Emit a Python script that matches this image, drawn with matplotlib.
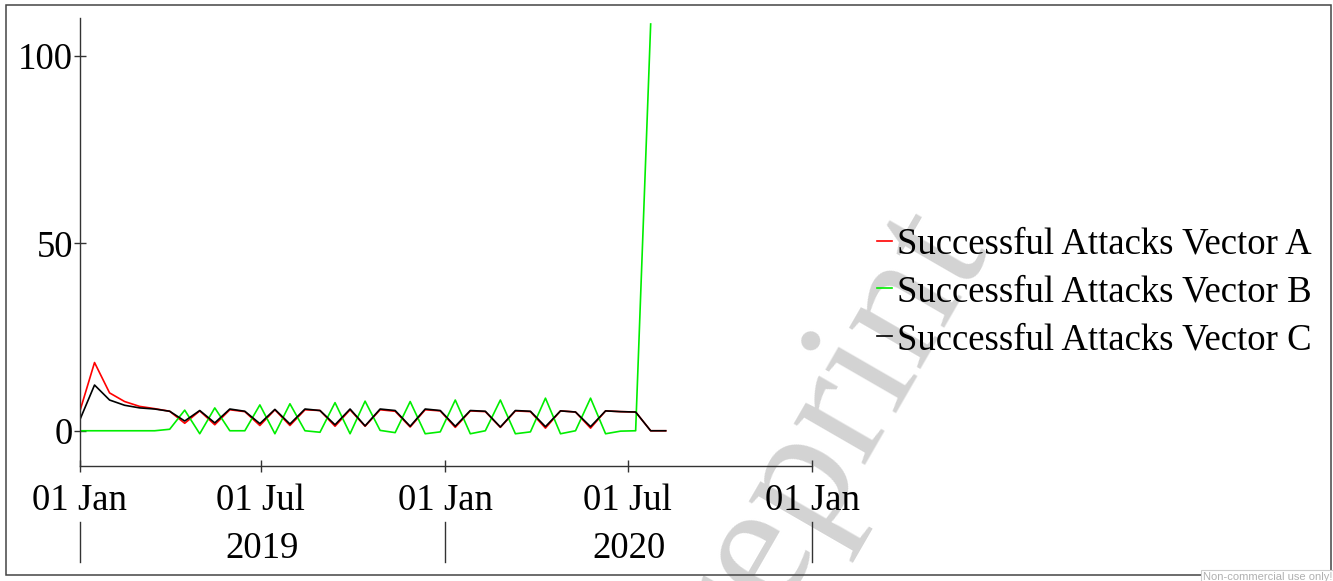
import matplotlib
matplotlib.use("Agg")
import matplotlib.pyplot as plt
import matplotlib.dates as mdates
import matplotlib.transforms as mtransforms
from matplotlib.patches import Rectangle
import numpy as np
import pandas as pd

# ---- data -------------------------------------------------------------
dates = pd.date_range("2019-01-01", periods=40, freq="15D")

vector_a = [4.9, 18.2, 10.1, 7.8, 6.5, 5.9, 5.2, 2.0, 5.3, 1.6, 5.6, 5.1, 1.4,
            5.6, 1.4, 5.6, 5.4, 1.2, 5.6, 1.2, 5.6, 5.2, 1.0, 5.6, 5.3, 0.9,
            5.3, 5.1, 0.9, 5.3, 5.1, 0.7, 5.3, 5.0, 0.7, 5.3, 5.1, 5.0, 0.0, 0.0]

vector_b = [0.0, 0.0, 0.0, 0.0, 0.0, 0.0, 0.4, 5.5, -0.8, 6.1, 0.0, 0.0, 6.9,
            -0.8, 7.2, 0.0, -0.4, 7.5, -0.8, 7.9, 0.1, -0.5, 7.8, -0.8, -0.3,
            8.2, -0.8, 0.0, 8.2, -0.8, -0.3, 8.7, -0.8, 0.0, 8.7, -0.8, -0.1,
            0.0, 108.5, np.nan]

vector_c = [2.7, 12.2, 8.2, 6.8, 6.1, 5.8, 5.2, 2.6, 5.4, 2.1, 5.8, 5.2, 1.9,
            5.7, 1.8, 5.8, 5.4, 1.6, 5.8, 1.3, 5.8, 5.4, 1.2, 5.8, 5.4, 1.2,
            5.4, 5.2, 1.0, 5.4, 5.2, 1.1, 5.3, 5.0, 1.1, 5.3, 5.1, 5.0, 0.0, 0.0]

series_names = ["Successful Attacks Vector A",
                "Successful Attacks Vector B",
                "Successful Attacks Vector C"]
series_colors = ["#ff0000", "#00ee00", "#000000"]

y_ticks = [0, 50, 100]
x_ticks = pd.to_datetime(["2019-01-01", "2019-07-01", "2020-01-01",
                          "2020-07-01", "2021-01-01"])
year_labels = ["2019", "2020"]
year_bounds = pd.to_datetime(["2019-01-01", "2020-01-01", "2021-01-01"])

FS = 26.5

# ---- figure -----------------------------------------------------------
W, H = 1333, 581
fig = plt.figure(figsize=(W / 100, H / 100), dpi=100)
plt.rcParams["font.family"] = ["Liberation Serif", "DejaVu Serif"]

def px(x, y):
    """pixel position (from top-left) -> figure fraction"""
    return x / W, 1 - y / H

left, top = px(79.5, 18)
right, bottom = px(812, 466)
ax = fig.add_axes([left, bottom, right - left, top - bottom])
ax.set_facecolor("none")

for vals, name, col in zip([vector_a, vector_b, vector_c], series_names, series_colors):
    ax.plot(dates, vals, color=col, lw=1.2, label=name)

ax.set_xlim(year_bounds[0], year_bounds[-1])
ax.set_ylim(-9.4, 110.1)

for s in ["top", "right"]:
    ax.spines[s].set_visible(False)
for s in ["left", "bottom"]:
    ax.spines[s].set_color("#333333")
    ax.spines[s].set_linewidth(1.0)

ax.set_yticks(y_ticks)
ax.set_yticklabels([str(v) for v in y_ticks])
ax.set_xticks(x_ticks)
ax.xaxis.set_major_formatter(mdates.DateFormatter("%d %b"))
ax.tick_params(axis="both", direction="inout", length=9, width=1.0,
               color="#333333", labelsize=FS, labelcolor="black")
ax.tick_params(axis="y", pad=0.3)
ax.tick_params(axis="x", pad=8)

# second row of the date axis: years with separators
blend = mtransforms.blended_transform_factory(ax.transData, ax.transAxes)
for b in year_bounds:
    ax.plot([b, b], [-0.125, -0.214], transform=blend, color="#333333",
            lw=1.0, clip_on=False)
for i, lab in enumerate(year_labels):
    mid = year_bounds[i] + (year_bounds[i + 1] - year_bounds[i]) / 2
    ax.text(mid, -0.184, lab, transform=blend, ha="center", va="center",
            fontsize=FS)

# legend to the right of the plot
handles, labels = ax.get_legend_handles_labels()
fig.legend(handles, labels, loc="center left", bbox_to_anchor=px(877, 292),
           frameon=False, fontsize=FS, handlelength=0.42, handletextpad=0.12,
           labelspacing=0.36, borderpad=0, borderaxespad=0)

# watermark behind everything
fig.text(*px(805, 476), "Preprint", rotation=60, rotation_mode="anchor",
         ha="center", va="center", fontsize=130, color="#d3d3d3", zorder=-1)

# outer frame
fig.patches.append(Rectangle(px(5.5, 574.5), (1330.5 - 5.5) / W, 570 / H,
                             transform=fig.transFigure, fill=False,
                             edgecolor="#444444", lw=1.1))

fig.text(*px(1268, 577), "Non-commercial use only!", ha="center", va="center",
         fontsize=8, color="#b0b0b0", family="Liberation Sans",
         bbox=dict(facecolor="white", edgecolor="#cccccc", lw=0.8, pad=1.5))

fig.savefig("out.png", dpi=100)
